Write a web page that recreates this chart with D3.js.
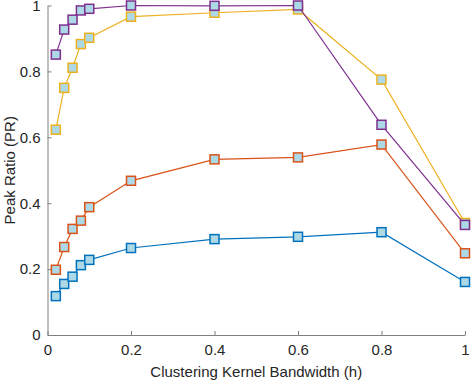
<!doctype html>
<html>
<head>
<script src="https://d3js.org/d3.v7.min.js"></script>
<style>
body { margin: 0; background: #fff; }
svg { display: block; font-family: "Liberation Sans", Arial, sans-serif; }
.tick text { fill: #262626; font-size: 15px; }
.tick line, .domain { stroke: #808080; }
</style>
</head>
<body>
<svg width="471" height="382" id="chart"></svg>
<script>
// bandwidth values (h)
var bandwidth = [0.02, 0.04, 0.06, 0.08, 0.1, 0.2, 0.4, 0.6, 0.8, 1.0];

// peak ratio for each series
var seriesBlue   = [0.118, 0.155, 0.177, 0.212, 0.228, 0.264, 0.291, 0.298, 0.312, 0.161];
var seriesOrange = [0.198, 0.267, 0.322, 0.347, 0.388, 0.468, 0.533, 0.539, 0.578, 0.248];
var seriesYellow = [0.623, 0.750, 0.811, 0.883, 0.902, 0.966, 0.978, 0.988, 0.775, 0.340];
var seriesPurple = [0.851, 0.927, 0.957, 0.985, 0.990, 1.000, 0.999, 1.000, 0.638, 0.334];

var seriesColors = ["#0072BD", "#D95319", "#EDB120", "#7E2F8E"];
var xTicks = [0, 0.2, 0.4, 0.6, 0.8, 1];
var yTicks = [0, 0.2, 0.4, 0.6, 0.8, 1];

var svg = d3.select("#chart");
var margin = {left: 47.5, right: 6, top: 5.5, bottom: 47};
var W = +svg.attr("width"), H = +svg.attr("height");

var x = d3.scaleLinear().domain([0, 1]).range([margin.left, W - margin.right]);
var y = d3.scaleLinear().domain([0, 1]).range([H - margin.bottom, margin.top]);

var fmt = function(d) { return d === 0 || d === 1 ? String(d) : d3.format(".1f")(d); };

svg.append("g")
  .attr("transform", "translate(0," + y(0) + ")")
  .call(d3.axisBottom(x).tickValues(xTicks).tickFormat(fmt).tickSizeInner(-4).tickSizeOuter(0).tickPadding(9));

svg.append("g")
  .attr("transform", "translate(" + x(0) + ",0)")
  .call(d3.axisLeft(y).tickValues(yTicks).tickFormat(fmt).tickSizeInner(-4).tickSizeOuter(0).tickPadding(7));

svg.append("text")
  .attr("x", (x(0) + x(1)) / 2)
  .attr("y", 377)
  .attr("text-anchor", "middle")
  .attr("fill", "#262626")
  .style("font-size", "15px")
  .text("Clustering Kernel Bandwidth (h)");

svg.append("text")
  .attr("transform", "translate(15," + (y(0) + y(1)) / 2 + ") rotate(-90)")
  .attr("text-anchor", "middle")
  .attr("fill", "#262626")
  .style("font-size", "15px")
  .text("Peak Ratio (PR)");

var allSeries = [seriesBlue, seriesOrange, seriesYellow, seriesPurple];
var line = d3.line().x(function(d, i) { return x(bandwidth[i]); }).y(function(d) { return y(d); });

allSeries.forEach(function(vals, k) {
  var g = svg.append("g");
  g.append("path")
    .attr("d", line(vals))
    .attr("fill", "none")
    .attr("stroke", seriesColors[k])
    .attr("stroke-width", 1.2);
  g.selectAll("rect").data(vals).enter().append("rect")
    .attr("x", function(d, i) { return x(bandwidth[i]) - 4.5; })
    .attr("y", function(d) { return y(d) - 4.5; })
    .attr("width", 9)
    .attr("height", 9)
    .attr("fill", "#ADD8E6")
    .attr("stroke", seriesColors[k])
    .attr("stroke-width", 1.5);
});
</script>
</body>
</html>
